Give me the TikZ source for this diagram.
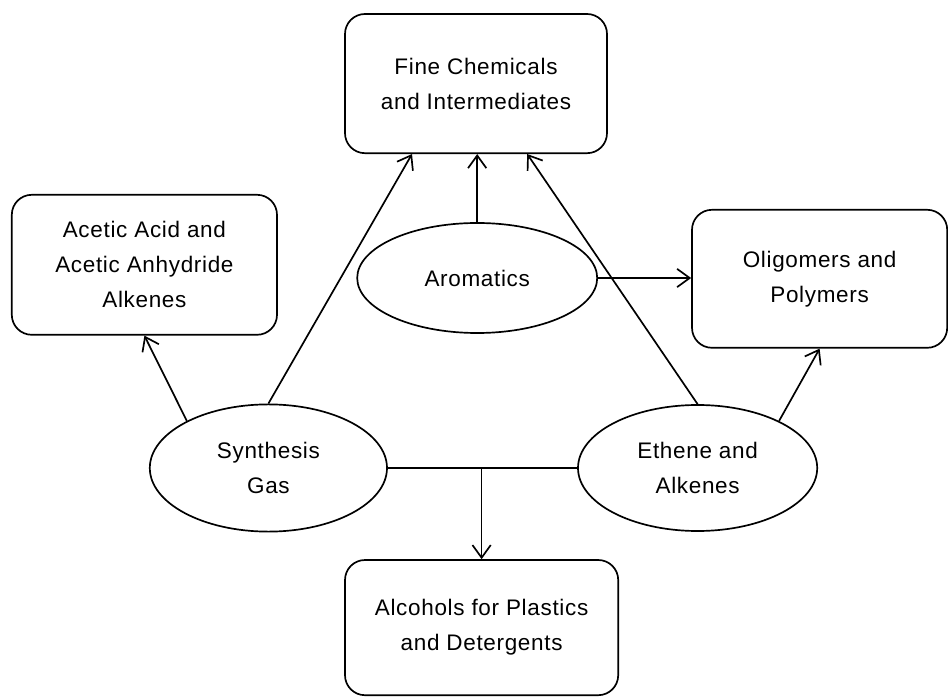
\documentclass[tikz,border=0pt]{standalone}
\usepackage{fontspec}
\setmainfont{Liberation Sans}[LetterSpace=3]
\usetikzlibrary{shapes.geometric}
\usetikzlibrary{arrows.meta}

\begin{document}
\begin{tikzpicture}[
    box/.style={draw, rectangle, rounded corners=0.5cm, align=center, line width=1.2pt, inner sep=0pt, font=\fontsize{16}{25}\selectfont},
    blob/.style={draw, ellipse, align=center, line width=1.2pt, inner sep=0pt, font=\fontsize{16}{25}\selectfont},
    arr/.style={-{Straight Barb[length=9pt,width=13pt]}, line width=1.2pt}]
            \useasboundingbox (0,0) rectangle (23.7,17.4);
            % Products
            \node[box, minimum width=6.55cm, minimum height=3.48cm] (fine) at (11.9,15.31) {Fine Chemicals\\and Intermediates};
            \node[box, minimum width=6.63cm, minimum height=3.5cm] (acetic) at (3.61,10.78) {Acetic Acid and\\Acetic Anhydride\\Alkenes};
            \node[box, minimum width=6.38cm, minimum height=3.45cm] (olig) at (20.49,10.43) {Oligomers and\\Polymers};
            \node[box, minimum width=6.83cm, minimum height=3.38cm] (alc) at (12.04,1.71) {Alcohols for Plastics\\and Detergents};
            % Feedstocks
            \node[blob, minimum width=6cm, minimum height=2.75cm] (arom) at (11.93,10.45) {Aromatics};
            \node[blob, minimum width=5.93cm, minimum height=3.18cm] (syn) at (6.71,5.7) {Synthesis\\Gas};
            \node[blob, minimum width=5.98cm, minimum height=3.15cm] (eth) at (17.44,5.7) {Ethene and\\Alkenes};
            % Connections
            \draw[arr] (syn.150) -- (acetic.south);
            \draw[arr] (syn.north) -- ([xshift=-1.6cm]fine.south);
            \draw[arr] (arom.north) -- (arom.north |- fine.south);
            \draw[arr] (arom.east) -- (arom.east -| olig.west);
            \draw[arr] (eth.north) -- ([xshift=1.28cm]fine.south);
            \draw[arr] (eth.30) -- (olig.south);
            \coordinate (join) at (syn.east -| alc.north);
            \draw[line width=1.2pt] (syn.east) -- (eth.west);
            \draw[arr] (join) -- (alc.north);
        \end{tikzpicture}
\end{document}
